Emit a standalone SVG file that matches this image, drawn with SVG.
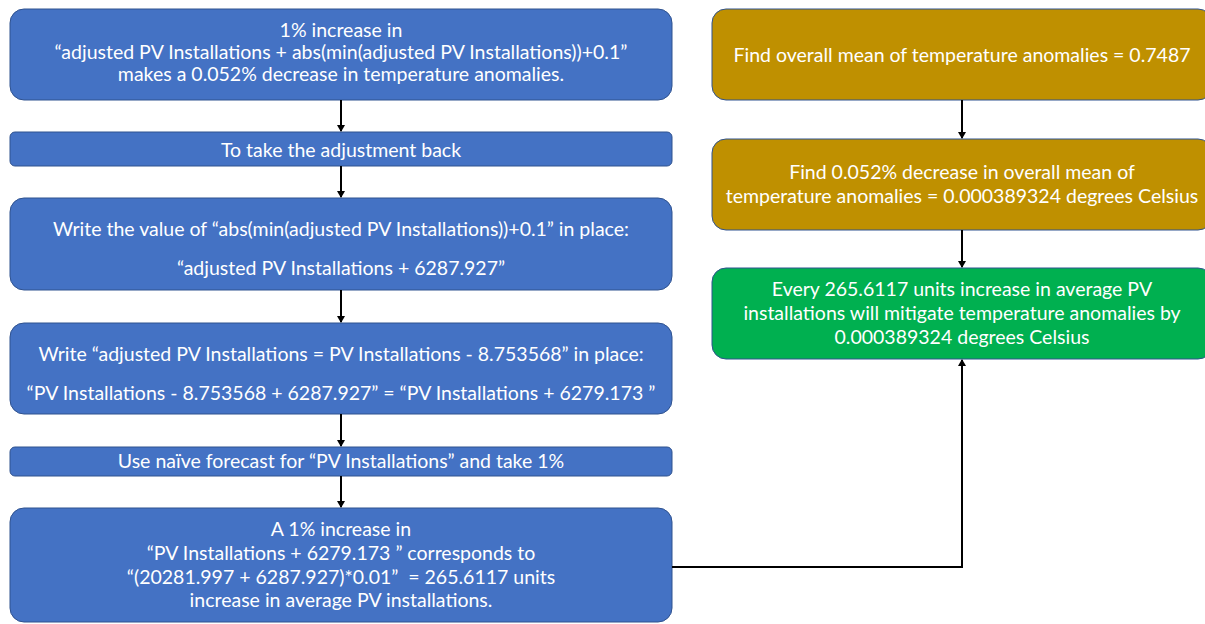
<svg xmlns="http://www.w3.org/2000/svg" width="1205" height="624" viewBox="0 0 1205 624">
<style>
.b{fill:#4472C4;stroke:#2F528F;stroke-width:1}
.g{fill:#BF9000;stroke:#2F528F;stroke-width:1}
.gr{fill:#00B050;stroke:#2F528F;stroke-width:1}
text{font-family:Lato,"Open Sans",sans-serif;font-size:19.5px;fill:#fff;text-anchor:middle}
.c{fill:none;stroke:#000;stroke-width:2}
</style>
<defs>
<marker id="ah" markerWidth="8" markerHeight="8" refX="6" refY="4" orient="auto" markerUnits="userSpaceOnUse">
<path d="M0,0 L7,4 L0,8 Z" fill="#000"/>
</marker>
</defs>
<g id="n1"><rect class="b" x="10" y="9" width="662" height="91" rx="14"/>
<text x="341" y="37">1% increase in</text>
<text x="341" y="59">“adjusted PV Installations + abs(min(adjusted PV Installations))+0.1”</text>
<text x="341" y="81">makes a 0.052% decrease in temperature anomalies.</text></g>
<g id="n2"><rect class="b" x="10" y="132" width="662" height="34" rx="5"/>
<text x="341" y="157">To take the adjustment back</text></g>
<g id="n3"><rect class="b" x="10" y="198" width="662" height="92" rx="14"/>
<text x="341" y="236">Write the value of “abs(min(adjusted PV Installations))+0.1” in place:</text>
<text x="341" y="275">“adjusted PV Installations + 6287.927”</text></g>
<g id="n4"><rect class="b" x="10" y="323" width="662" height="91" rx="14"/>
<text x="341" y="361">Write “adjusted PV Installations = PV Installations - 8.753568” in place:</text>
<text x="341" y="400">“PV Installations - 8.753568 + 6287.927” = “PV Installations + 6279.173 ”</text></g>
<g id="n5"><rect class="b" x="10" y="447" width="662" height="29" rx="5"/>
<text x="341" y="468">Use naïve forecast for “PV Installations” and take 1%</text></g>
<g id="n6"><rect class="b" x="10" y="508" width="662" height="114" rx="14"/>
<text x="341" y="536">A 1% increase in</text>
<text x="341" y="560">“PV Installations + 6279.173 ” corresponds to</text>
<text x="341" y="584" xml:space="preserve">“(20281.997 + 6287.927)*0.01”  = 265.6117 units</text>
<text x="341" y="607">increase in average PV installations.</text></g>
<g id="n7"><rect class="g" x="712" y="9" width="500" height="91" rx="14"/>
<text x="962" y="62">Find overall mean of temperature anomalies = 0.7487</text></g>
<g id="n8"><rect class="g" x="712" y="139" width="500" height="91" rx="14"/>
<text x="962" y="179">Find 0.052% decrease in overall mean of</text>
<text x="962" y="203">temperature anomalies = 0.000389324 degrees Celsius</text></g>
<g id="n9"><rect class="gr" x="712" y="268" width="500" height="91" rx="14"/>
<text x="962" y="296">Every 265.6117 units increase in average PV</text>
<text x="962" y="320">installations will mitigate temperature anomalies by</text>
<text x="962" y="344">0.000389324 degrees Celsius</text></g>
<g id="connectors">
<line class="c" x1="341" y1="100" x2="341" y2="131" marker-end="url(#ah)"/>
<line class="c" x1="341" y1="166" x2="341" y2="197" marker-end="url(#ah)"/>
<line class="c" x1="341" y1="290" x2="341" y2="322" marker-end="url(#ah)"/>
<line class="c" x1="341" y1="414" x2="341" y2="446" marker-end="url(#ah)"/>
<line class="c" x1="341" y1="476" x2="341" y2="507" marker-end="url(#ah)"/>
<line class="c" x1="962" y1="100" x2="962" y2="138" marker-end="url(#ah)"/>
<line class="c" x1="962" y1="230" x2="962" y2="267" marker-end="url(#ah)"/>
<polyline class="c" points="672,567 962,567 962,360" marker-end="url(#ah)"/>
</g>
</svg>
